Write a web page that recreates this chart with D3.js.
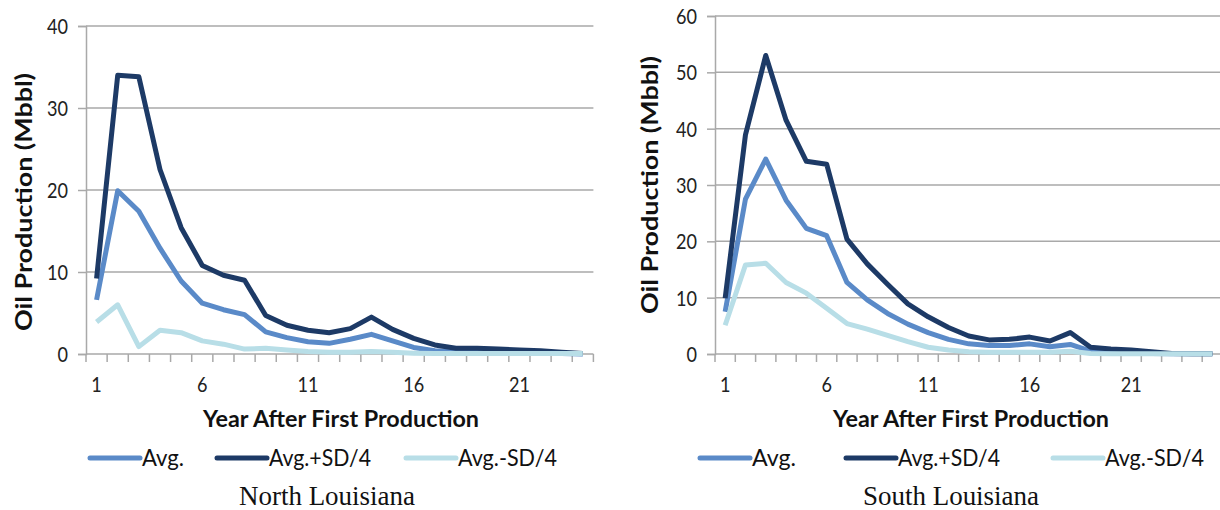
<!DOCTYPE html>
<html>
<head>
<meta charset="utf-8">
<script src="https://cdn.jsdelivr.net/npm/d3@7"></script>
<style>
  html, body { margin: 0; padding: 0; background: #ffffff; }
  svg { display: block; }
</style>
</head>
<body>
<svg id="chart" width="1220" height="510"></svg>
<script>
// ---- data ---------------------------------------------------------------
const northYears = [1, 2, 3, 4, 5, 6, 7, 8, 9, 10, 11, 12, 13, 14, 15, 16, 17, 18, 19, 20, 21, 22, 23, 24];
const northAvg   = [6.6, 19.9, 17.4, 12.9, 8.9, 6.2, 5.4, 4.8, 2.7, 2.0, 1.5, 1.3, 1.8, 2.4, 1.6, 0.8, 0.4, 0.3, 0.3, 0.2, 0.2, 0.1, 0.05, 0.0];
const northHi    = [9.2, 34.0, 33.8, 22.5, 15.4, 10.8, 9.6, 9.0, 4.7, 3.5, 2.9, 2.6, 3.1, 4.5, 3.0, 1.9, 1.1, 0.7, 0.7, 0.6, 0.5, 0.4, 0.2, 0.05];
const northLo    = [3.9, 6.0, 0.9, 2.9, 2.6, 1.6, 1.2, 0.6, 0.7, 0.5, 0.3, 0.2, 0.2, 0.3, 0.2, 0.1, 0.05, 0.05, 0.05, 0.05, 0.05, 0.05, 0.05, 0.05];

const southYears = [1, 2, 3, 4, 5, 6, 7, 8, 9, 10, 11, 12, 13, 14, 15, 16, 17, 18, 19, 20, 21, 22, 23, 24, 25];
const southAvg   = [7.5, 27.5, 34.6, 27.3, 22.3, 21.0, 12.7, 9.6, 7.2, 5.3, 3.8, 2.6, 1.8, 1.5, 1.5, 1.8, 1.3, 1.7, 0.5, 0.3, 0.2, 0.1, 0.05, 0.05, 0.05];
const southHi    = [9.9, 38.9, 53.0, 41.5, 34.2, 33.7, 20.4, 16.0, 12.4, 8.9, 6.6, 4.7, 3.2, 2.5, 2.6, 3.0, 2.3, 3.8, 1.2, 0.9, 0.7, 0.4, 0.1, 0.05, 0.05];
const southLo    = [5.1, 15.8, 16.1, 12.7, 10.8, 8.1, 5.4, 4.4, 3.3, 2.2, 1.2, 0.7, 0.4, 0.3, 0.3, 0.3, 0.3, 0.5, 0.1, 0.05, 0.05, 0.05, 0.05, 0.05, 0.05];

const xTickLabels  = [1, 6, 11, 16, 21];
const northYTicks  = [0, 10, 20, 30, 40];
const southYTicks  = [0, 10, 20, 30, 40, 50, 60];
const seriesNames  = ["Avg.", "Avg.+SD/4", "Avg.-SD/4"];
const seriesColors = ["#5a8ac8", "#1d3a66", "#b8dee7"];

// ---- helpers ------------------------------------------------------------
const SANS = "Lato, 'Open Sans', 'DejaVu Sans', sans-serif";
const SERIF = "'Liberation Serif', 'Times New Roman', serif";
const GRID = "#a9a9a9";

// narrow the glyphs horizontally (Calibri-like proportions)
function squeeze(sel, f) {
  sel.each(function () {
    const w = this.getComputedTextLength();
    this.setAttribute("textLength", (w * f).toFixed(1));
    this.setAttribute("lengthAdjust", "spacingAndGlyphs");
  });
}
function fitWidth(sel, w) {
  sel.attr("textLength", w).attr("lengthAdjust", "spacingAndGlyphs");
}

const svg = d3.select("#chart");

function drawPanel(p) {
  const g = svg.append("g");

  const x = d3.scaleBand().domain(p.years).range([p.left, p.right]).paddingInner(0).paddingOuter(0);
  const y = d3.scaleLinear().domain([0, d3.max(p.yTicks)]).range([p.bottom, p.top]);
  const cx = d => x(d) + x.bandwidth() / 2;

  // horizontal gridlines
  g.append("g").selectAll("line")
    .data(p.yTicks.filter(v => v > 0))
    .join("line")
    .attr("x1", p.left).attr("x2", p.right)
    .attr("y1", d => y(d)).attr("y2", d => y(d))
    .attr("stroke", GRID).attr("stroke-width", 1.5);

  // y axis
  const yAxis = g.append("g")
    .attr("transform", `translate(${p.left},0)`)
    .call(d3.axisLeft(y).tickValues(p.yTicks).tickSize(8).tickPadding(10).tickFormat(d3.format("d")));
  yAxis.select(".domain").attr("stroke", GRID).attr("stroke-width", 1.5);
  yAxis.selectAll(".tick line").attr("stroke", GRID).attr("stroke-width", 1.5);
  yAxis.selectAll(".tick text")
    .attr("font-family", SANS).attr("font-size", 21).attr("fill", "#222")
    .attr("dy", "0.36em");
  squeeze(yAxis.selectAll(".tick text"), 0.86);

  // x axis baseline with category boundary ticks
  g.append("line")
    .attr("x1", p.left).attr("x2", p.right)
    .attr("y1", p.bottom).attr("y2", p.bottom)
    .attr("stroke", GRID).attr("stroke-width", 1.5);
  const bounds = p.years.map(d => x(d)).concat([x(p.years[p.years.length - 1]) + x.bandwidth()]);
  g.append("g").selectAll("line")
    .data(bounds)
    .join("line")
    .attr("x1", d => d).attr("x2", d => d)
    .attr("y1", p.bottom).attr("y2", p.bottom + 8)
    .attr("stroke", GRID).attr("stroke-width", 1.5);

  const xl = g.append("g").selectAll("text")
    .data(xTickLabels)
    .join("text")
    .attr("x", d => cx(d)).attr("y", p.bottom + 38)
    .attr("text-anchor", "middle")
    .attr("font-family", SANS).attr("font-size", 21).attr("fill", "#222")
    .text(d => d);
  squeeze(xl, 0.86);

  // series lines: Avg., Avg.+SD/4, Avg.-SD/4
  const line = d3.line().x((d, i) => cx(p.years[i])).y(d => y(d));
  [p.avg, p.hi, p.lo].forEach((vals, k) => {
    g.append("path")
      .datum(vals)
      .attr("d", line)
      .attr("fill", "none")
      .attr("stroke", seriesColors[k])
      .attr("stroke-width", 5)
      .attr("stroke-linejoin", "round")
      .attr("stroke-linecap", "butt");
  });

  // axis titles
  g.append("text")
    .attr("transform", `translate(${p.yTitleX},${p.yTitleY}) rotate(-90)`)
    .attr("text-anchor", "middle")
    .attr("font-family", SANS).attr("font-weight", 700).attr("font-size", 23).attr("fill", "#111")
    .text("Oil Production (Mbbl)")
    .call(fitWidth, 258);

  g.append("text")
    .attr("x", p.xTitleX).attr("y", 427)
    .attr("text-anchor", "middle")
    .attr("font-family", SANS).attr("font-weight", 700).attr("font-size", 23).attr("fill", "#111")
    .text("Year After First Production")
    .call(fitWidth, 276);

  // legend
  const lg = g.append("g");
  seriesNames.forEach((name, k) => {
    const lx = p.legendX[k];
    lg.append("line")
      .attr("x1", lx).attr("x2", lx + 50)
      .attr("y1", 458).attr("y2", 458)
      .attr("stroke", seriesColors[k]).attr("stroke-width", 5)
      .attr("stroke-linecap", "round");
    lg.append("text")
      .attr("x", lx + 52).attr("y", 466)
      .attr("font-family", SANS).attr("font-size", 23).attr("fill", "#111")
      .text(name)
      .call(fitWidth, p.legendW[k]);
  });

  // region caption
  g.append("text")
    .attr("x", p.captionX).attr("y", 505)
    .attr("text-anchor", "middle")
    .attr("font-family", SERIF).attr("font-size", 28).attr("fill", "#111")
    .text(p.caption)
    .call(fitWidth, 176);
}

drawPanel({
  years: northYears, avg: northAvg, hi: northHi, lo: northLo, yTicks: northYTicks,
  left: 86, right: 593.4, top: 26, bottom: 354,
  yTitleX: 32, yTitleY: 202, xTitleX: 341,
  legendX: [90, 217, 406], legendW: [42, 102, 99],
  captionX: 327, caption: "North Louisiana"
});

drawPanel({
  years: southYears, avg: southAvg, hi: southHi, lo: southLo, yTicks: southYTicks,
  left: 715, right: 1222.5, top: 16, bottom: 354,
  yTitleX: 658, yTitleY: 185, xTitleX: 971,
  legendX: [700, 846, 1053], legendW: [44, 102, 99],
  captionX: 951, caption: "South Louisiana"
});
</script>
</body>
</html>
